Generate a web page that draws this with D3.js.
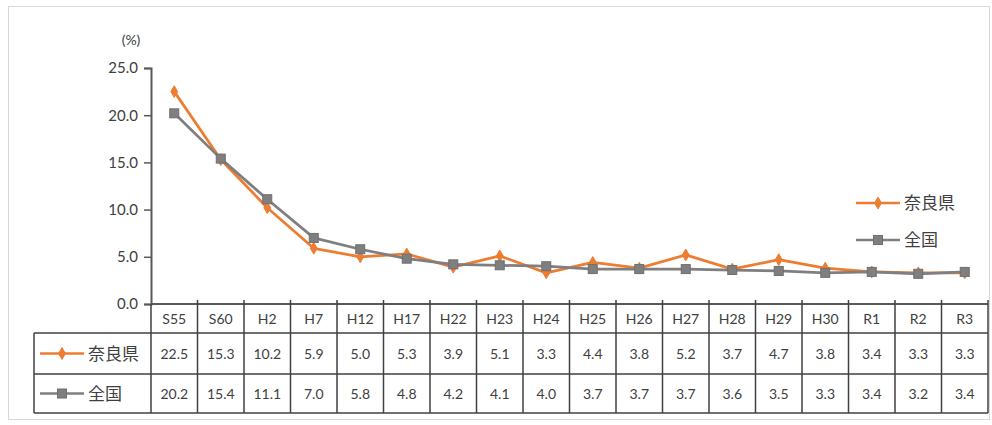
<!DOCTYPE html>
<html><head><meta charset="utf-8">
<script src="https://cdn.jsdelivr.net/npm/d3@7"></script>
<style>
body{margin:0;background:#fff;overflow:hidden;}
text{font-family:Lato,"Noto Sans CJK JP",sans-serif;fill:#404040;}
</style></head><body>
<svg id="c" width="992" height="425" style="display:block"></svg>
<script>
const categories = ["S55","S60","H2","H7","H12","H17","H22","H23","H24","H25","H26","H27","H28","H29","H30","R1","R2","R3"];
const nara = [22.5,15.3,10.2,5.9,5.0,5.3,3.9,5.1,3.3,4.4,3.8,5.2,3.7,4.7,3.8,3.4,3.3,3.3];
const zenkoku = [20.2,15.4,11.1,7.0,5.8,4.8,4.2,4.1,4.0,3.7,3.7,3.7,3.6,3.5,3.3,3.4,3.2,3.4];
const seriesNames = ["奈良県","全国"];
const yTicks = [0,5,10,15,20,25];

const svg = d3.select("#c");
const orange = "#ED7D31", gray = "#7F7F7F", lineCol = "#404040", textCol = "#404040";
const plotLeft = 151, plotRight = 988, plotTop = 68, plotBottom = 304;
const rowY = [304, 333, 374, 413];
const tableLeft = 34;

svg.append("rect").attr("x",8.5).attr("y",6.5).attr("width",981).attr("height",413)
  .attr("fill","#fff").attr("stroke","#d9d9d9");

const x = d3.scaleBand().domain(categories).range([plotLeft,plotRight]).padding(0);
const y = d3.scaleLinear().domain([0,25]).range([plotBottom,plotTop]);

const yAxis = svg.append("g").attr("transform",`translate(${plotLeft},0)`)
  .call(d3.axisLeft(y).tickValues(yTicks).tickFormat(d3.format(".1f")).tickSize(7).tickPadding(6));
yAxis.select(".domain").attr("stroke","#595959").attr("stroke-width",2);
yAxis.selectAll(".tick line").attr("stroke","#595959").attr("stroke-width",1.5);
yAxis.selectAll(".tick text").attr("font-size",15).attr("fill",textCol).attr("font-family","Lato,sans-serif");

svg.append("text").attr("x",131).attr("y",45).attr("text-anchor","middle").attr("font-size",14).attr("fill",textCol).text("(%)");

const tg = svg.append("g");
const bands = categories.map(c=>x(c)).concat([plotRight]);
tg.append("line").attr("x1",plotLeft).attr("x2",plotRight).attr("y1",rowY[0]).attr("y2",rowY[0]).attr("stroke","#595959").attr("stroke-width",2);
[1,2,3].forEach(i=>{
  tg.append("line").attr("x1",tableLeft).attr("x2",plotRight).attr("y1",rowY[i]).attr("y2",rowY[i]).attr("stroke",lineCol).attr("stroke-width",1.5);
});
tg.append("line").attr("x1",tableLeft).attr("x2",tableLeft).attr("y1",rowY[1]).attr("y2",rowY[3]).attr("stroke",lineCol).attr("stroke-width",1.5);
bands.forEach((bx,i)=>{
  tg.append("line").attr("x1",bx).attr("x2",bx).attr("y1",i===0?rowY[0]:rowY[0]-4).attr("y2",rowY[3]).attr("stroke",lineCol).attr("stroke-width",1.5);
});
categories.forEach(c=>{
  tg.append("text").attr("x",x(c)+x.bandwidth()/2).attr("y",(rowY[0]+rowY[1])/2+5)
    .attr("text-anchor","middle").attr("font-size",14).attr("fill",textCol).text(c);
});
const seriesData = [nara, zenkoku];
seriesData.forEach((arr,si)=>{
  const cy = (rowY[si+1]+rowY[si+2])/2;
  arr.forEach((v,i)=>{
    tg.append("text").attr("x",x(categories[i])+x.bandwidth()/2).attr("y",cy+5)
      .attr("text-anchor","middle").attr("font-size",14).attr("fill",textCol).text(d3.format(".1f")(v));
  });
});

function drawMarker(g, cx, cy, si){
  if(si===0){
    g.append("path").attr("d",d3.symbol().type(d3.symbolDiamond).size(40)()).attr("transform",`translate(${cx},${cy})`)
      .attr("fill",orange).attr("stroke",orange);
  } else {
    g.append("rect").attr("x",cx-4.5).attr("y",cy-4.5).attr("width",9).attr("height",9)
      .attr("fill",gray).attr("stroke","#6f6f6f");
  }
}
const colors=[orange,gray];

seriesData.forEach((arr,si)=>{
  const cy = (rowY[si+1]+rowY[si+2])/2;
  tg.append("line").attr("x1",40).attr("x2",84).attr("y1",cy).attr("y2",cy).attr("stroke",colors[si]).attr("stroke-width",2.5);
  drawMarker(tg,62,cy,si);
  tg.append("text").attr("x",88).attr("y",cy+6).attr("font-size",17).attr("fill","#595959").attr("font-family","'Noto Sans CJK JP',sans-serif").text(seriesNames[si]);
});

const lg = svg.append("g");
[0,1].forEach(si=>{
  const arr = seriesData[si];
  const line = d3.line().x((d,i)=>x(categories[i])+x.bandwidth()/2).y(d=>y(d));
  lg.append("path").datum(arr).attr("d",line).attr("fill","none").attr("stroke",colors[si]).attr("stroke-width",2.75).attr("stroke-linejoin","round");
  arr.forEach((v,i)=>drawMarker(lg,x(categories[i])+x.bandwidth()/2,y(v),si));
});

const legY=[203,240];
seriesData.forEach((arr,si)=>{
  svg.append("line").attr("x1",856).attr("x2",900).attr("y1",legY[si]).attr("y2",legY[si]).attr("stroke",colors[si]).attr("stroke-width",2.5);
  drawMarker(svg,878,legY[si],si);
  svg.append("text").attr("x",904).attr("y",legY[si]+6).attr("font-size",17).attr("fill","#595959").attr("font-family","'Noto Sans CJK JP',sans-serif").text(seriesNames[si]);
});
</script></body></html>
